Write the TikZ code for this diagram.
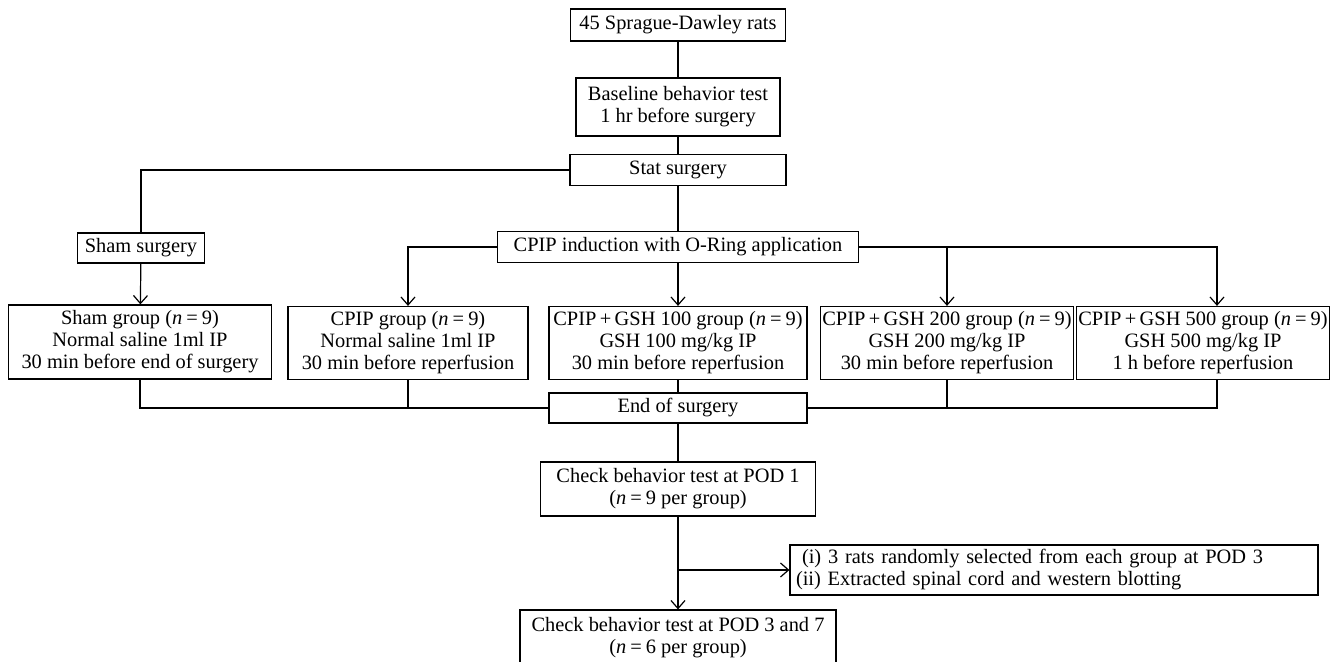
\documentclass[tikz,border=0pt]{standalone}
\usepackage{fontspec}
\setmainfont{Liberation Serif}
\usetikzlibrary{positioning,arrows.meta}
\tikzstyle{box}=[draw,rectangle,align=center,inner sep=1pt,line width=.6pt,
font=\fontsize{10.2}{11}\selectfont]
\tikzstyle{line}=[line width=.6pt]
\tikzstyle{arr}=[line,-{Straight Barb[length=4pt,width=7pt]}]
\newcommand{\nn}[1]{\textit{n}\hspace{.2em}=\hspace{.2em}#1}

\begin{document}
\begin{tikzpicture}[x=.5pt,y=-.5pt]
  \useasboundingbox (0,0) rectangle (1330,662);

  \node[box, minimum width=107.5pt, minimum height=16pt] (rats) at (678,25) {45 Sprague-Dawley rats};
  \node[box, minimum width=102pt, minimum height=29pt] (base) at (678,107) {Baseline behavior test\\ 1 hr before surgery};
  \node[box, minimum width=108pt, minimum height=15.5pt] (stat) at (678,170) {Stat surgery};
  \node[box, minimum width=63.5pt, minimum height=15pt] (sham) at (141,248) {Sham surgery};
  \node[box, minimum width=180.5pt, minimum height=15.5pt] (cpip) at (678,247) {CPIP induction with O-Ring application};

  \node[box, minimum width=131.5pt, minimum height=37pt] (g1) at (140,342) {Sham group (\nn{9})\\ Normal saline 1ml IP\\ 30 min before end of surgery};
  \node[box, minimum width=120pt, minimum height=36.5pt] (g2) at (408,343) {CPIP group (\nn{9})\\ Normal saline 1ml IP\\ 30 min before reperfusion};
  \node[box, minimum width=129pt, minimum height=36.5pt] (g3) at (678,343) {CPIP\,+\,GSH 100 group (\nn{9})\\ GSH 100 mg/kg IP\\ 30 min before reperfusion};
  \node[box, minimum width=125pt, minimum height=36.5pt] (g4) at (947,343) {CPIP\,+\,GSH 200 group (\nn{9})\\ GSH 200 mg/kg IP\\ 30 min before reperfusion};
  \node[box, minimum width=124pt, minimum height=36.5pt] (g5) at (1203,343) {CPIP\,+\,GSH 500 group (\nn{9})\\ GSH 500 mg/kg IP\\ 1 h before reperfusion};

  \node[box, minimum width=129pt, minimum height=15pt] (end) at (678,408) {End of surgery};
  \node[box, minimum width=137.5pt, minimum height=27pt] (pod1) at (678,489) {Check behavior test at POD 1\\ (\nn{9} per group)};
  \node[box, align=left, text width=258pt, inner xsep=3pt, minimum height=25pt] (side) at (1054,570) {\hspace{3pt}(i) 3 rats randomly selected from each group at POD 3\\ (ii) Extracted spinal cord and western blotting};
  \node[box, minimum width=158pt, minimum height=28pt] (pod3) at (678,638) {Check behavior test at POD 3 and 7\\ (\nn{6} per group)};

  % top column
  \draw[line] (rats) -- (base) -- (stat) -- (cpip);
  \draw[line] (stat) -| (sham);
  \draw[arr] (sham) -- (g1);

  % groups
  \draw[arr] (cpip) -| (g2);
  \draw[arr] (cpip) -- (g3);
  \draw[arr] (cpip) -| ([xshift=7pt]g5.north);
  \draw[arr] (g4 |- cpip) -- (g4);

  % back together
  \draw[line] (g1) |- (end);
  \draw[line] (g2) -- (g2 |- end);
  \draw[line] (g3) -- (end);
  \draw[line] ([xshift=7pt]g5.south) |- (end);
  \draw[line] (g4) -- (g4 |- end);

  \draw[line] (end) -- (pod1);
  \draw[arr] (pod1) -- (pod3);
  \draw[arr] (pod1 |- side) -- (side);
\end{tikzpicture}
\end{document}
